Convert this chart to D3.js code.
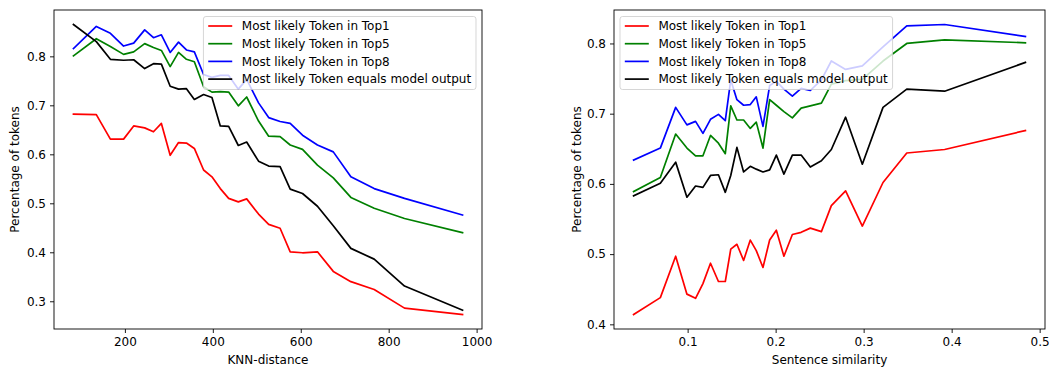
<!DOCTYPE html>
<html><head><meta charset="utf-8">
<script src="https://cdn.jsdelivr.net/npm/d3@7"></script>
<style>body{margin:0;background:#fff}svg{display:block}text{font-family:"DejaVu Sans",sans-serif;fill:#000}</style>
</head><body>
<svg id="c" width="1049" height="369"></svg>
<script>
// ---- Left panel data (KNN-distance) ----
const knnDist = [83,135,167,197,220,245,265,283,303,322,340,358,379,398,417,436,458,477,504,527,553,576,604,638,674,714,767,836,968];
const knnTop1 = [0.682,0.681,0.631,0.631,0.658,0.654,0.646,0.663,0.598,0.624,0.623,0.612,0.568,0.554,0.530,0.510,0.503,0.509,0.478,0.457,0.449,0.401,0.399,0.401,0.361,0.340,0.324,0.286,0.273];
const knnTop5 = [0.801,0.836,0.820,0.804,0.809,0.826,0.818,0.812,0.779,0.808,0.794,0.789,0.738,0.727,0.728,0.727,0.699,0.717,0.668,0.637,0.636,0.619,0.610,0.578,0.552,0.512,0.490,0.469,0.440];
const knnTop8 = [0.816,0.861,0.847,0.821,0.827,0.854,0.838,0.844,0.808,0.829,0.813,0.809,0.763,0.757,0.761,0.761,0.733,0.753,0.705,0.675,0.667,0.663,0.639,0.619,0.605,0.554,0.530,0.510,0.476];
const knnModel = [0.865,0.830,0.794,0.792,0.793,0.775,0.785,0.784,0.739,0.733,0.734,0.712,0.722,0.716,0.658,0.657,0.618,0.625,0.586,0.576,0.575,0.529,0.520,0.494,0.454,0.408,0.386,0.331,0.282];
const knnXTicks = [200,400,600,800,1000];
const knnYTicks = [0.3,0.4,0.5,0.6,0.7,0.8];

// ---- Right panel data (Sentence similarity) ----
const simX = [0.0386,0.069,0.0864,0.0992,0.109,0.1174,0.126,0.135,0.1428,0.149,0.156,0.1636,0.1712,0.178,0.1856,0.1932,0.2008,0.2094,0.219,0.229,0.2394,0.252,0.2633,0.2795,0.2985,0.322,0.349,0.392,0.4838];
const simTop1 = [0.414,0.438,0.497,0.443,0.437,0.458,0.487,0.461,0.461,0.507,0.514,0.491,0.520,0.505,0.481,0.520,0.534,0.497,0.528,0.531,0.537,0.532,0.569,0.590,0.540,0.602,0.644,0.649,0.676];
const simTop5 = [0.589,0.609,0.671,0.651,0.640,0.640,0.669,0.658,0.643,0.711,0.691,0.691,0.679,0.688,0.651,0.720,0.712,0.703,0.694,0.708,0.711,0.715,0.742,0.747,0.749,0.775,0.800,0.805,0.801];
const simTop8 = [0.634,0.651,0.709,0.684,0.689,0.672,0.692,0.699,0.690,0.748,0.720,0.712,0.713,0.724,0.682,0.740,0.746,0.735,0.725,0.736,0.733,0.748,0.775,0.763,0.768,0.795,0.825,0.827,0.810];
const simModel = [0.583,0.601,0.631,0.581,0.597,0.595,0.612,0.613,0.588,0.612,0.652,0.617,0.625,0.621,0.617,0.620,0.641,0.614,0.641,0.641,0.624,0.633,0.649,0.695,0.628,0.709,0.735,0.732,0.773];
const simXTicks = [0.1,0.2,0.3,0.4,0.5];
const simYTicks = [0.4,0.5,0.6,0.7,0.8];

const seriesNames = ["Most likely Token in Top1","Most likely Token in Top5","Most likely Token in Top8","Most likely Token equals model output"];
const seriesColors = ["#ff0000","#008000","#0000ff","#000000"];

const FS = 12;
const svg = d3.select("#c");

function padExtent(arr){
  const e = d3.extent(arr); const p = (e[1]-e[0])*0.05; return [e[0]-p, e[1]+p];
}

function panel(opts){
  const {left,right,top,bottom,xs,ys,xTicks,yTicks,xLabel,yLabelX,xFmt,legendPos} = opts;
  const g = svg.append("g");
  const x = d3.scaleLinear().domain(padExtent(xs)).range([left,right]);
  const y = d3.scaleLinear().domain(padExtent(ys.flat())).range([bottom,top]);

  const line = d3.line().x((d,i)=>x(xs[i])).y(d=>y(d));
  ys.forEach((s,k)=>{
    g.append("path").attr("d",line(s)).attr("fill","none")
      .attr("stroke",seriesColors[k]).attr("stroke-width",1.7)
      .attr("stroke-linejoin","round").attr("stroke-linecap","square");
  });

  const xa = d3.axisBottom(x).tickValues(xTicks).tickSize(4).tickPadding(4).tickFormat(xFmt);
  const ya = d3.axisLeft(y).tickValues(yTicks).tickSize(4).tickPadding(4).tickFormat(d3.format(".1f"));
  const gx = g.append("g").attr("transform",`translate(0,${bottom})`).call(xa);
  const gy = g.append("g").attr("transform",`translate(${left},0)`).call(ya);
  [gx,gy].forEach(a=>{
    a.select(".domain").remove();
    a.selectAll("line").attr("stroke","#000").attr("stroke-width",0.9);
    a.selectAll("text").attr("font-size",FS).attr("font-family","DejaVu Sans").attr("fill","#000");
  });
  g.append("rect").attr("x",left).attr("y",top).attr("width",right-left).attr("height",bottom-top)
    .attr("fill","none").attr("stroke","#000").attr("stroke-width",0.9);

  g.append("text").attr("x",(left+right)/2).attr("y",bottom+35).attr("text-anchor","middle")
    .attr("font-size",FS).text(xLabel);
  g.append("text").attr("transform",`translate(${yLabelX},${(top+bottom)/2}) rotate(-90)`)
    .attr("text-anchor","middle").attr("font-size",FS).text("Percentage of tokens");

  // legend
  const bp = 0.4*FS, hl = 2*FS, htp = 0.8*FS, bap = 0.5*FS;
  const lg = g.append("g");
  const rect = lg.append("rect");
  const texts = seriesNames.map(n=>lg.append("text").attr("font-size",FS).text(n));
  const tw = d3.max(texts, t=>t.node().getComputedTextLength());
  const lw = bp+hl+htp+tw+bp, lh = 73;
  const lx = legendPos==="right" ? right-bap-lw : left+bap;
  const ly = top+6.5;
  rect.attr("x",lx).attr("y",ly).attr("width",lw).attr("height",lh).attr("rx",2.5)
    .attr("fill","#fff").attr("fill-opacity",0.8).attr("stroke","#cccccc").attr("stroke-opacity",0.8).attr("stroke-width",1);
  seriesNames.forEach((n,k)=>{
    const cy = ly+9.5+k*17.7;
    lg.append("line").attr("x1",lx+bp).attr("x2",lx+bp+hl).attr("y1",cy).attr("y2",cy)
      .attr("stroke",seriesColors[k]).attr("stroke-width",1.7);
    texts[k].attr("x",lx+bp+hl+htp).attr("y",cy+4.3);
  });
}

panel({left:54,right:482,top:10,bottom:329,xs:knnDist,ys:[knnTop1,knnTop5,knnTop8,knnModel],
  xTicks:knnXTicks,yTicks:knnYTicks,xLabel:"KNN-distance",yLabelX:19,xFmt:d3.format("d"),legendPos:"right"});
panel({left:614,right:1045,top:10,bottom:329,xs:simX,ys:[simTop1,simTop5,simTop8,simModel],
  xTicks:simXTicks,yTicks:simYTicks,xLabel:"Sentence similarity",yLabelX:581,xFmt:d3.format(".1f"),legendPos:"left"});
</script>
</body></html>
